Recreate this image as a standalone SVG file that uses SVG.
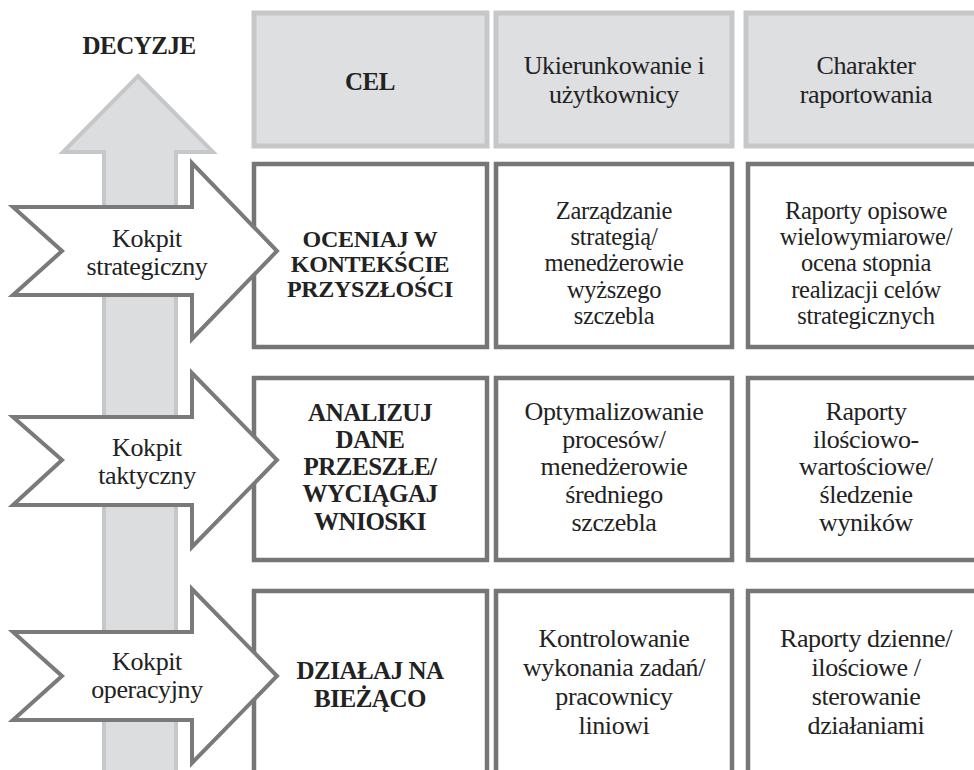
<svg xmlns="http://www.w3.org/2000/svg" width="974" height="770" viewBox="0 0 974 770" font-family="'Liberation Serif', 'DejaVu Serif', serif">
<style>
.hdr{fill:#dedfe1;stroke:#c6c7c9;stroke-width:5}
.box{fill:#ffffff;stroke:#767676;stroke-width:4.5}
.chev{fill:#ffffff;stroke:#7a7a7a;stroke-width:4;stroke-linejoin:miter}
.axis{fill:#dcdddf;stroke:#c6c7c9;stroke-width:4;stroke-linejoin:miter}
text{font-family:'Liberation Serif', 'DejaVu Serif', serif;fill:#222222;text-anchor:middle}
.r{font-size:26px;letter-spacing:-0.4px}
.s{font-size:24.5px;letter-spacing:-0.3px}
.b{font-size:25px;font-weight:bold;letter-spacing:-0.5px}
.bs{font-size:24px;font-weight:bold;letter-spacing:-0.3px}
</style>
<rect width="974" height="770" fill="#ffffff"/>
<text class="b" x="139" y="54">DECYZJE</text>
<g id="connectors">
  <path class="axis" d="M138,76 L213,152 L176,152 L176,775 L104,775 L104,152 L63,152 Z"/>
</g>
<g id="header-cel">
  <rect class="hdr" x="254" y="13" width="233" height="133"/>
  <text class="b" x="370" y="90">CEL</text>
</g>
<g id="header-ukierunkowanie">
  <rect class="hdr" x="496" y="13" width="236" height="133"/>
  <text class="r" x="614" y="74">Ukierunkowanie i</text>
  <text class="r" x="614" y="103">użytkownicy</text>
</g>
<g id="header-charakter">
  <rect class="hdr" x="746" y="13" width="242" height="133"/>
  <text class="r" x="866" y="74">Charakter</text>
  <text class="r" x="866" y="103">raportowania</text>
</g>
<g id="cel-strategiczny">
  <rect class="box" x="254" y="164" width="233" height="183"/>
  <text class="bs" x="370" y="247">OCENIAJ W</text>
  <text class="bs" x="370" y="272">KONTEKŚCIE</text>
  <text class="bs" x="370" y="297">PRZYSZŁOŚCI</text>
</g>
<g id="uzytkownicy-strategiczny">
  <rect class="box" x="496" y="164" width="236" height="183"/>
  <text class="s" x="614" y="219">Zarządzanie</text>
  <text class="s" x="614" y="245">strategią/</text>
  <text class="s" x="614" y="271">menedżerowie</text>
  <text class="s" x="614" y="298">wyższego</text>
  <text class="s" x="614" y="324">szczebla</text>
</g>
<g id="raporty-strategiczny">
  <rect class="box" x="748" y="164" width="242" height="183"/>
  <text class="s" x="866" y="219">Raporty opisowe</text>
  <text class="s" x="866" y="245">wielowymiarowe/</text>
  <text class="s" x="866" y="271">ocena stopnia</text>
  <text class="s" x="866" y="298">realizacji celów</text>
  <text class="s" x="866" y="324">strategicznych</text>
</g>
<g id="cel-taktyczny">
  <rect class="box" x="254" y="378" width="233" height="182"/>
  <text class="b" x="370" y="421">ANALIZUJ</text>
  <text class="b" x="370" y="448">DANE</text>
  <text class="b" x="370" y="475">PRZESZŁE/</text>
  <text class="b" x="370" y="502">WYCIĄGAJ</text>
  <text class="b" x="370" y="530">WNIOSKI</text>
</g>
<g id="uzytkownicy-taktyczny">
  <rect class="box" x="496" y="378" width="236" height="182"/>
  <text class="r" x="614" y="420">Optymalizowanie</text>
  <text class="r" x="614" y="448">procesów/</text>
  <text class="r" x="614" y="475">menedżerowie</text>
  <text class="r" x="614" y="503">średniego</text>
  <text class="r" x="614" y="531">szczebla</text>
</g>
<g id="raporty-taktyczny">
  <rect class="box" x="748" y="378" width="242" height="182"/>
  <text class="r" x="866" y="420">Raporty</text>
  <text class="r" x="866" y="448">ilościowo-</text>
  <text class="r" x="866" y="475">wartościowe/</text>
  <text class="r" x="866" y="503">śledzenie</text>
  <text class="r" x="866" y="531">wyników</text>
</g>
<g id="cel-operacyjny">
  <rect class="box" x="254" y="591" width="233" height="183"/>
  <text class="b" x="370" y="679">DZIAŁAJ NA</text>
  <text class="b" x="370" y="707">BIEŻĄCO</text>
</g>
<g id="uzytkownicy-operacyjny">
  <rect class="box" x="496" y="591" width="236" height="183"/>
  <text class="r" x="614" y="647">Kontrolowanie</text>
  <text class="r" x="614" y="676">wykonania zadań/</text>
  <text class="r" x="614" y="705">pracownicy</text>
  <text class="r" x="614" y="734">liniowi</text>
</g>
<g id="raporty-operacyjny">
  <rect class="box" x="748" y="591" width="242" height="183"/>
  <text class="r" x="866" y="647">Raporty dzienne/</text>
  <text class="r" x="866" y="676">ilościowe /</text>
  <text class="r" x="866" y="705">sterowanie</text>
  <text class="r" x="866" y="734">działaniami</text>
</g>
<g id="kokpit-strategiczny">
  <path class="chev" d="M13,207 L192,207 L192,163 L277,251 L192,339 L192,295 L13,295 L62,251 Z"/>
  <text class="r" x="147" y="247">Kokpit</text>
  <text class="r" x="147" y="275">strategiczny</text>
</g>
<g id="kokpit-taktyczny">
  <path class="chev" d="M13,417 L192,417 L192,373 L277,460 L192,547 L192,505 L13,505 L62,460 Z"/>
  <text class="r" x="147" y="456">Kokpit</text>
  <text class="r" x="147" y="484">taktyczny</text>
</g>
<g id="kokpit-operacyjny">
  <path class="chev" d="M13,632 L192,632 L192,589 L277,676 L192,763 L192,720 L13,720 L62,676 Z"/>
  <text class="r" x="147" y="670">Kokpit</text>
  <text class="r" x="147" y="698">operacyjny</text>
</g>
</svg>
